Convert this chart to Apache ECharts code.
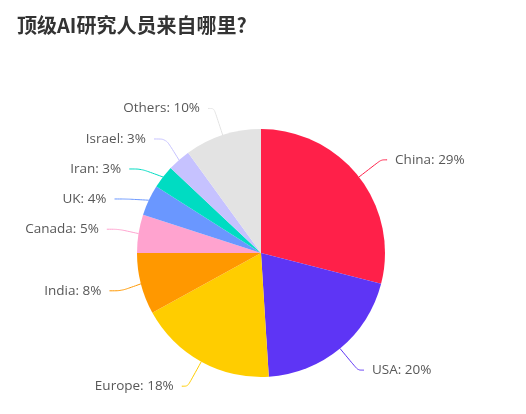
<!DOCTYPE html>
<html>
<head>
<meta charset="utf-8">
<script src="https://cdn.jsdelivr.net/npm/echarts@6/dist/echarts.min.js"></script>
<style>
html,body{margin:0;padding:0;background:#fff;}
#chart{width:526px;height:414px;}
</style>
</head>
<body>
<div id="chart"></div>
<script>
const categories = ['China', 'USA', 'Europe', 'India', 'Canada', 'UK', 'Iran', 'Israel', 'Others'];
const values = [29, 20, 18, 8, 5, 4, 3, 3, 10];
const colors = ['#ff2049', '#5e35f5', '#ffcd00', '#ff9800', '#ffa3cf', '#6a97ff', '#00dcc2', '#c6c2ff', '#e3e3e3'];

const chart = echarts.init(document.getElementById('chart'));
chart.setOption({
  animation: false,
  title: {
    text: '顶级AI研究人员来自哪里?',
    left: 12,
    top: 10,
    textStyle: {
      fontFamily: '"Noto Sans CJK SC", "Open Sans", sans-serif',
      fontSize: 20,
      fontWeight: 'bold',
      color: '#333'
    }
  },
  series: [{
    type: 'pie',
    center: [261, 253],
    radius: 124,
    startAngle: 90,
    clockwise: true,
    data: categories.map((c, i) => ({
      name: c,
      value: values[i],
      itemStyle: { color: colors[i] },
      labelLine: { length2: (i >= 3 && i <= 7) ? 12 : 6 }
    })),
    label: {
      formatter: '{b}: {c}%',
      fontFamily: '"Open Sans", sans-serif',
      fontSize: 13.5,
      lineHeight: 28,
      color: '#585858',
      distanceToLabelLine: 8
    },
    labelLine: {
      length: 28,
      length2: 6,
      smooth: 0.3
    },
    itemStyle: { borderWidth: 0 }
  }]
});
</script>
</body>
</html>
